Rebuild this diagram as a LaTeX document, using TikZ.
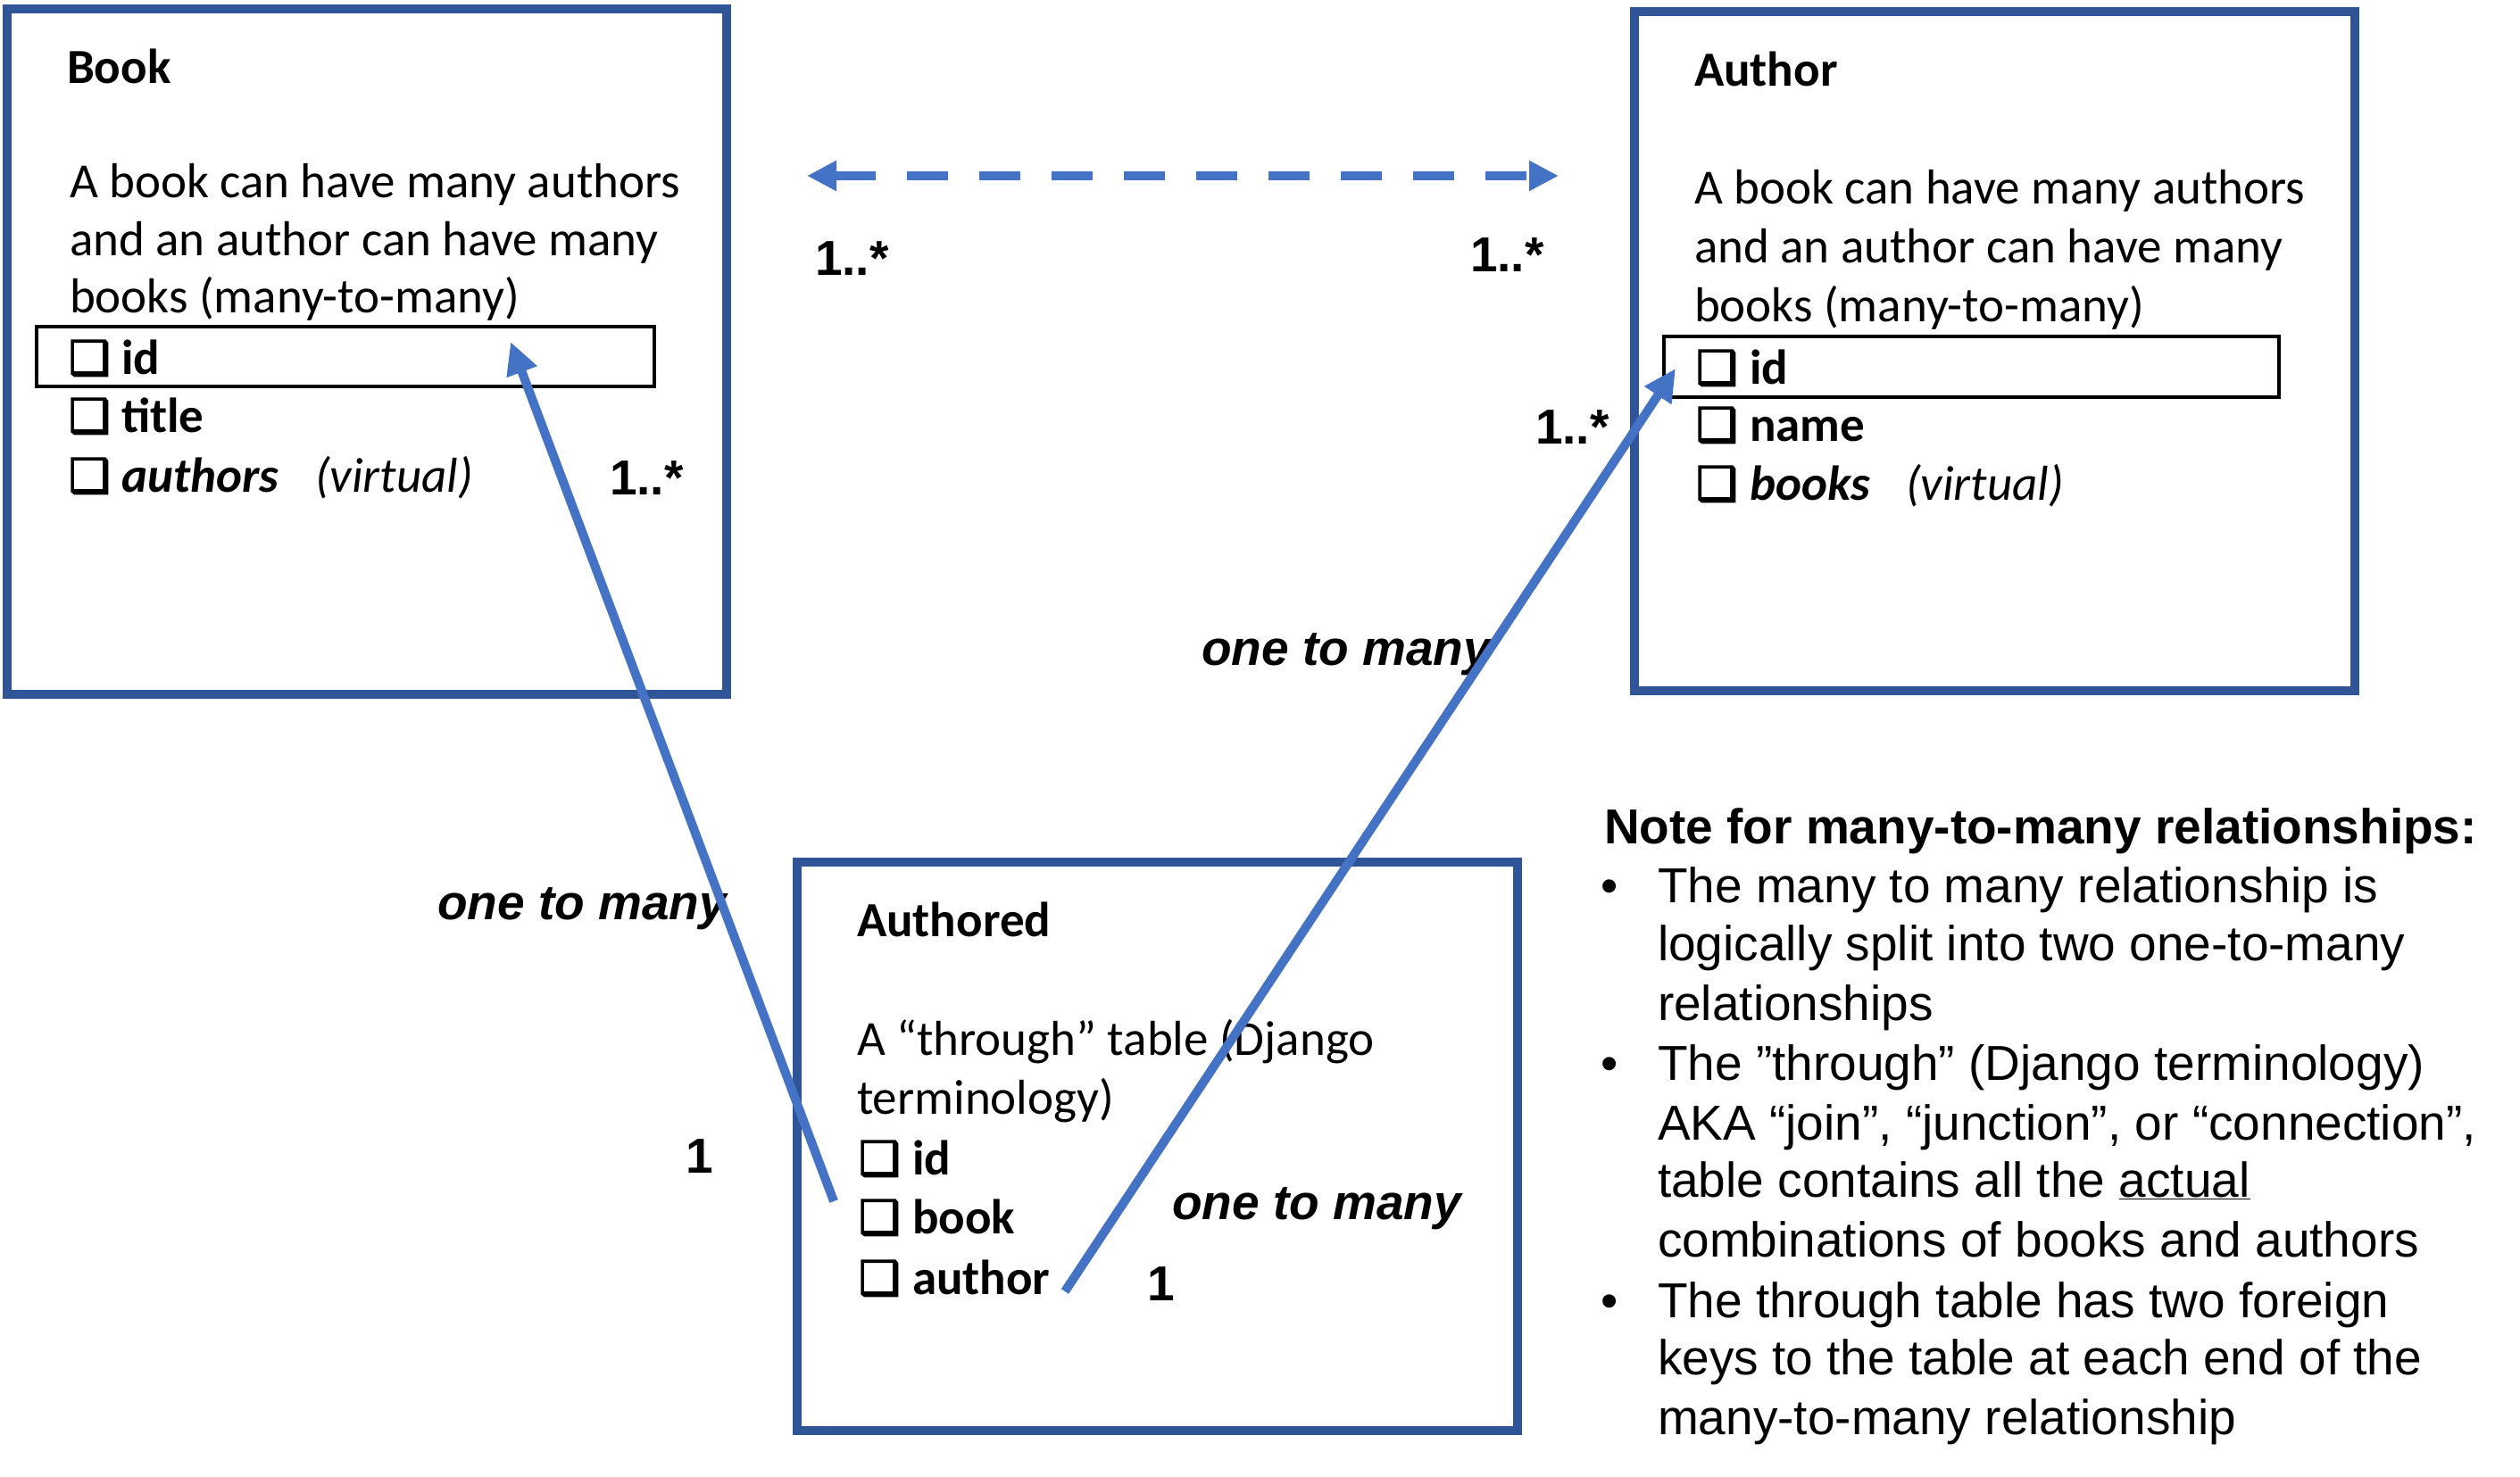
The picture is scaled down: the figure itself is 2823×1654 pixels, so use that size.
\documentclass[tikz,border=0pt]{standalone}
\usepackage{fontspec}
\setmainfont{Carlito}
\newfontfamily\arialf{Liberation Sans}
\newfontfamily\dejavuf[FakeBold=3]{DejaVu Sans}
\usetikzlibrary{arrows.meta}
\definecolor{boxblue}{HTML}{2F5597}
\definecolor{lineblue}{HTML}{4472C4}
\newcommand{\chkbox}{{\dejavuf\bfseries\fontsize{52}{60}\selectfont ❑}}
\begin{document}
\begin{tikzpicture}[x=1pt,y=-1pt,
  tablebox/.style={draw=boxblue,line width=10pt,inner sep=0pt,outer sep=0pt},
  keybox/.style={draw=black,line width=4.5pt,inner sep=0pt,outer sep=0pt},
  txt/.style={anchor=base west,inner sep=0pt,outer sep=0pt,font=\fontsize{55}{66}\selectfont},
  chk/.style={anchor=base west,inner sep=0pt,outer sep=0pt},
  mult/.style={anchor=base west,inner sep=0pt,outer sep=0pt,font=\arialf\bfseries\fontsize{55}{66}\selectfont},
  rellabel/.style={anchor=base west,inner sep=0pt,outer sep=0pt,font=\arialf\bfseries\itshape\fontsize{55}{66}\selectfont},
  note/.style={anchor=base west,inner sep=0pt,outer sep=0pt,font=\arialf\fontsize{55}{66}\selectfont},
  rel/.style={draw=lineblue,line width=10pt,-{Triangle[length=36pt,width=34pt]}},
  many/.style={draw=lineblue,line width=10pt,dash pattern=on 46pt off 35pt,{Triangle[length=33pt,width=32pt]}-{Triangle[length=33pt,width=32pt]}}
]
\useasboundingbox (0,0) rectangle (2823,1654);
\fill[white] (0,0) rectangle (2823,1654);

% ---------- tables ----------
\node[tablebox,minimum width=806pt,minimum height=768pt] (book) at (411,394) {};
\node[tablebox,minimum width=807pt,minimum height=761pt] (author) at (2234.5,393.5) {};
\node[tablebox,minimum width=807pt,minimum height=637pt] (authored) at (1296.5,1284.5) {};

\node[keybox,minimum width=692pt,minimum height=67pt] (bookid) at (387,399.5) {};
\node[keybox,minimum width=689pt,minimum height=68pt] (authorid) at (2208.5,411) {};

% ---------- Book ----------
\node[txt,font=\bfseries\fontsize{55}{66}\selectfont] (booktitle) at (75,93) {Book};
\node[txt] (bookd1) at (78,221) {A book can have many authors};
\node[txt] (bookd2) at (78,286) {and an author can have many};
\node[txt] (bookd3) at (78,350) {books (many-to-many)};
\node[chk] (bookc1) at (77,419) {\chkbox};
\node[chk] (bookc2) at (77,484) {\chkbox};
\node[chk] (bookc3) at (77,551) {\chkbox};
\node[txt,font=\bfseries\fontsize{55}{66}\selectfont] (bookf1) at (136,419) {id};
\node[txt,font=\bfseries\fontsize{55}{66}\selectfont] (bookf2) at (136,484) {title};
\node[txt,font=\bfseries\itshape\fontsize{55}{66}\selectfont] (bookf3) at (136,551) {authors};
\node[txt,font=\itshape\fontsize{55}{66}\selectfont] (bookv) at (353,551) {(virtual)};

% ---------- Author ----------
\node[txt,font=\bfseries\fontsize{55}{66}\selectfont] (authortitle) at (1898,96) {Author};
\node[txt] (authord1) at (1898,228) {A book can have many authors};
\node[txt] (authord2) at (1898,294) {and an author can have many};
\node[txt] (authord3) at (1898,360) {books (many-to-many)};
\node[chk] (authorc1) at (1900,430) {\chkbox};
\node[chk] (authorc2) at (1900,494) {\chkbox};
\node[chk] (authorc3) at (1900,560) {\chkbox};
\node[txt,font=\bfseries\fontsize{55}{66}\selectfont] (authorf1) at (1960,430) {id};
\node[txt,font=\bfseries\fontsize{55}{66}\selectfont] (authorf2) at (1960,494) {name};
\node[txt,font=\bfseries\itshape\fontsize{55}{66}\selectfont] (authorf3) at (1960,560) {books};
\node[txt,font=\itshape\fontsize{55}{66}\selectfont] (authorv) at (2135,560) {(virtual)};

% ---------- Authored ----------
\node[txt,font=\bfseries\fontsize{55}{66}\selectfont] (authoredtitle) at (960,1049) {Authored};
\node[txt] (authoredd1) at (960,1182) {A “through” table (Django};
\node[txt] (authoredd2) at (960,1248) {terminology)};
\node[chk] (authoredc1) at (962,1316) {\chkbox};
\node[chk] (authoredc2) at (962,1382) {\chkbox};
\node[chk] (authoredc3) at (962,1450) {\chkbox};
\node[txt,font=\bfseries\fontsize{55}{66}\selectfont] (authoredf1) at (1022,1316) {id};
\node[txt,font=\bfseries\fontsize{55}{66}\selectfont] (authoredf2) at (1022,1382) {book};
\node[txt,font=\bfseries\fontsize{55}{66}\selectfont] (authoredf3) at (1022,1450) {author};

% ---------- multiplicities and labels ----------
\node[mult] (m1) at (683,554) {1..*};
\node[mult] (m2) at (913,308) {1..*};
\node[mult] (m3) at (1647,304) {1..*};
\node[mult] (m4) at (1720,497) {1..*};
\node[mult] (m5) at (768,1314) {1};
\node[mult] (m6) at (1285,1457) {1};
\node[rellabel] (otm1) at (1346,745) {one to many};
\node[rellabel] (otm2) at (490,1030) {one to many};
\node[rellabel] (otm3) at (1313,1366) {one to many};

% ---------- note ----------
\node[note,font=\arialf\bfseries\fontsize{55}{66}\selectfont] (notetitle) at (1797,945) {Note for many-to-many relationships:};
\node[note] (bul1) at (1793,1011) {•};
\node[note] (bul2) at (1793,1210) {•};
\node[note] (bul3) at (1793,1476) {•};
\node[note] (n1) at (1857,1011) {The many to many relationship is};
\node[note] (n2) at (1857,1076) {logically split into two one-to-many};
\node[note] (n3) at (1857,1143) {relationships};
\node[note] (n4) at (1857,1210) {The ”through” (Django terminology)};
\node[note] (n5) at (1857,1277) {AKA “join”, “junction”, or “connection”,};
\node[note] (n6) at (1857,1341) {table contains all the \underline{actual}};
\node[note] (n7) at (1857,1408) {combinations of books and authors};
\node[note] (n8) at (1857,1476) {The through table has two foreign};
\node[note] (n9) at (1857,1540) {keys to the table at each end of the};
\node[note] (n10) at (1857,1607) {many-to-many relationship};

% ---------- connectors ----------
\coordinate (mmL) at (904,197);
\coordinate (mmR) at (1746,197);
\coordinate (bookFrom) at (934,1346);
\coordinate (bookTo) at (572,383);
\coordinate (authorFrom) at (1193,1447);
\coordinate (authorTo) at (1877,413);
\draw[many] (mmL) -- (mmR);
\draw[rel] (bookFrom) -- (bookTo);
\draw[rel] (authorFrom) -- (authorTo);
\end{tikzpicture}
\end{document}
